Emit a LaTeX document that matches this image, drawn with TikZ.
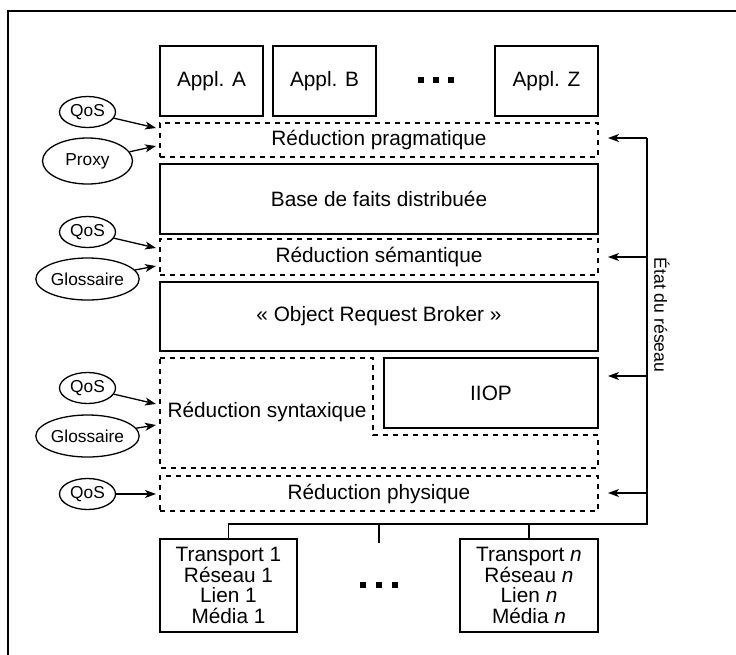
\documentclass[tikz,border=0pt]{standalone}
\usepackage{fontspec}
\setmainfont{Liberation Sans}
\usetikzlibrary{arrows.meta,shapes.geometric}

\begin{document}
\begin{tikzpicture}
[x=1pt,y=-1pt,
  linedecorate/.style={-,line width=1.4pt},
  dashlinedecorate/.style={line width=1.3pt,dash pattern=on 5pt off 5pt},
  boxdecorate/.style={draw,line width=1.4pt,inner sep=0pt,align=center,
    font=\fontsize{20.8}{20.7}\selectfont},
  dashdecorate/.style={boxdecorate,dashlinedecorate},
  ellipsedecorate/.style={shape=ellipse,draw,line width=1.3pt,inner sep=0pt,
    font=\fontsize{17.3}{18}\selectfont},
  arrowdecorate/.style={-{Stealth[length=11pt,width=8pt,inset=3pt]},line width=1.3pt}]
\useasboundingbox (0,0) rectangle (736,654);
\draw[linedecorate] (8,11) rectangle (745,665);
%% applications
\foreach \nodename/\x/\letter in {applA/211.5/A, applB/324.5/B, applZ/546.5/Z}
{
  \node (\nodename) at (\x,81) [boxdecorate,minimum width=103,minimum height=70] {Appl. \letter};
}
\foreach \x in {421,436,451} {
  \fill (\x-3,77) rectangle (\x+3,83);
}
%% layers
\foreach \nodename/\y/\h/\look/\txt in {
  prag/140/34/dashdecorate/Réduction pragmatique,
  base/199/70/boxdecorate/Base de faits distribuée,
  sem/257/36/dashdecorate/Réduction sémantique,
  orb/316.5/69/boxdecorate/« Object Request Broker »,
  phys/493.5/35/dashdecorate/Réduction physique}
{
  \node (\nodename) at (379,\y) [\look,minimum width=438,minimum height=\h] {\txt};
}
\draw[dashlinedecorate] (160,358) -- (373,358) -- (373,435) -- (598,435)
  -- (598,468) -- (160,468) -- cycle;
\node (syn) at (267,412) [font=\fontsize{20.8}{20.7}\selectfont] {Réduction syntaxique};
\node (iiop) at (491,393) [boxdecorate,minimum width=214,minimum height=70] {IIOP};
%% network stacks
\node (tr1) at (228.5,585.5) [boxdecorate,minimum width=137,minimum height=93]
  {Transport 1\\Réseau 1\\Lien 1\\Média 1};
\node (trn) at (529,585.5) [boxdecorate,minimum width=138,minimum height=93]
  {Transport \textit{n}\\Réseau \textit{n}\\Lien \textit{n}\\Média \textit{n}};
\foreach \x in {363,379,395} {
  \fill (\x-3,582) rectangle (\x+3,588);
}
%% bus and network state
\coordinate (busL) at (228.5,524);
\coordinate (busM) at (379,524);
\coordinate (busR) at (647,524);
\coordinate (busEnd) at (379,543);
\coordinate (stateTop) at (647,138);
\draw[linedecorate] (tr1.north) -- (busL) -- (busR) -- (stateTop);
\draw[linedecorate] (trn.north) -- (trn.north |- busR);
\draw[linedecorate] (busM) -- (busEnd);
\node (state) at (662,315) [rotate=-90,font=\fontsize{17.6}{18}\selectfont] {État du réseau};
\foreach \nodename/\y in {prag/138, sem/257, iiop/376, phys/493}
{
  \coordinate (\nodename from) at (647,\y);
  \coordinate (\nodename to) at (608,\y);
  \draw[arrowdecorate] (\nodename from) -- (\nodename to);
}
%% parameters
\foreach \nodename/\y/\w/\h/\txt/\ty in {
  qosA/112/56/31/QoS/128, proxy/161/90/46/Proxy/146,
  qosB/232/56/31/QoS/248, glosA/279/90/42/Glossaire/266,
  qosC/388/56/31/QoS/404, glosB/436/90/42/Glossaire/425,
  qosD/494/56/31/QoS/494}
{
  \node (\nodename) at (87.5,\y) [ellipsedecorate,minimum width=\w,minimum height=\h] {\txt};
  \coordinate (\nodename tip) at (156,\ty);
  \draw[arrowdecorate] (\nodename) -- (\nodename tip);
}
\end{tikzpicture}
\end{document}
